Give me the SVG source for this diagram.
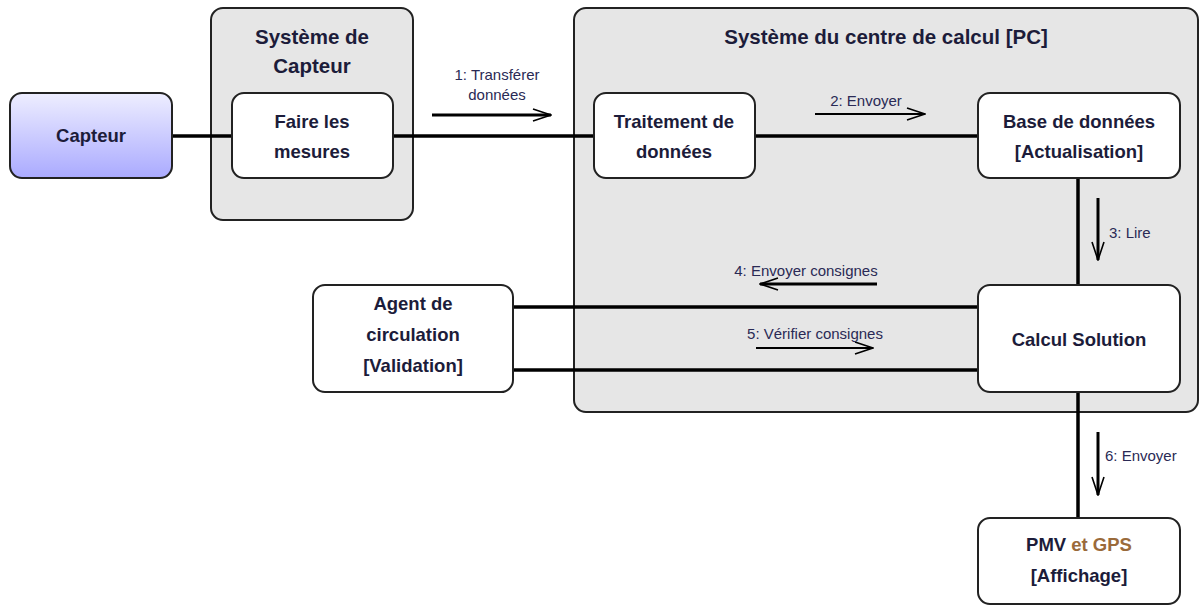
<svg xmlns="http://www.w3.org/2000/svg" width="1200" height="606" viewBox="0 0 1200 606">
<defs>
<linearGradient id="capG" x1="0" y1="0" x2="0" y2="1">
<stop offset="0" stop-color="#eeeeff"/>
<stop offset="1" stop-color="#aaaaff"/>
</linearGradient>
<marker id="openL" viewBox="0 0 20 14" refX="19" refY="7" markerWidth="20" markerHeight="14" markerUnits="userSpaceOnUse" orient="auto">
<path d="M1,1 L19,7 L1,13" fill="none" stroke="#000" stroke-width="1.6"/>
</marker>
</defs>
<style>
.cont{fill:#e6e6e6;stroke:#222;stroke-width:2}
.node{fill:#fff;stroke:#222;stroke-width:2}
.t{font-family:"Liberation Sans",Arial,sans-serif;font-weight:bold;font-size:18.5px;fill:#1c1c3a;text-anchor:middle}
.h{font-family:"Liberation Sans",Arial,sans-serif;font-weight:bold;font-size:20.5px;fill:#1c1c3a;text-anchor:middle}
.lbl{font-family:"Liberation Sans",Arial,sans-serif;font-size:15px;fill:#2a2a55;text-anchor:middle}
.lbs{font-family:"Liberation Sans",Arial,sans-serif;font-size:15px;fill:#2a2a55;text-anchor:start}
.lnk{stroke:#000;stroke-width:3.5;fill:none}
.arr{stroke:#000;fill:none}
</style>
<g id="containers">
<g id="sys-capteur">
<rect class="cont" x="211" y="8" width="202" height="212" rx="12"/>
<text class="h" x="312" y="44">Système de</text>
<text class="h" x="312" y="73">Capteur</text>
</g>
<g id="sys-pc">
<rect class="cont" x="574" y="8" width="624" height="404" rx="12"/>
<text class="h" x="886" y="44">Système du centre de calcul [PC]</text>
</g>
</g>
<g id="connectors">
<line class="lnk" x1="172" y1="136" x2="232" y2="136"/>
<line class="lnk" x1="393" y1="136" x2="594" y2="136"/>
<line class="lnk" x1="755" y1="136" x2="978" y2="136"/>
<line class="lnk" x1="1078" y1="178" x2="1078" y2="285"/>
<line class="lnk" x1="513" y1="307" x2="978" y2="307"/>
<line class="lnk" x1="513" y1="370" x2="978" y2="370"/>
<line class="lnk" x1="1078" y1="392" x2="1078" y2="518"/>
<line class="arr" x1="432" y1="115" x2="551" y2="115" stroke-width="3" marker-end="url(#openL)"/>
<line class="arr" x1="815" y1="114" x2="925" y2="114" stroke-width="1.8" marker-end="url(#openL)"/>
<line class="arr" x1="1098" y1="198" x2="1098" y2="260" stroke-width="3" marker-end="url(#openL)"/>
<line class="arr" x1="877" y1="284" x2="760" y2="284" stroke-width="3" marker-end="url(#openL)"/>
<line class="arr" x1="756" y1="348" x2="873" y2="348" stroke-width="1.8" marker-end="url(#openL)"/>
<line class="arr" x1="1098" y1="432" x2="1098" y2="495" stroke-width="3" marker-end="url(#openL)"/>
<text class="lbl" x="497" y="80">1: Transférer</text>
<text class="lbl" x="497" y="100">données</text>
<text class="lbl" x="866" y="106">2: Envoyer</text>
<text class="lbs" x="1109" y="238">3: Lire</text>
<text class="lbl" x="806" y="276">4: Envoyer consignes</text>
<text class="lbl" x="815" y="339">5: Vérifier consignes</text>
<text class="lbs" x="1105" y="461">6: Envoyer</text>
</g>
<g id="capteur">
<rect x="10" y="93" width="162" height="85" rx="12" fill="url(#capG)" stroke="#222" stroke-width="2"/>
<text class="t" x="91" y="142">Capteur</text>
</g>
<g id="faire-mesures">
<rect class="node" x="232" y="93" width="161" height="85" rx="12"/>
<text class="t" x="312" y="128">Faire les</text>
<text class="t" x="312" y="158">mesures</text>
</g>
<g id="traitement">
<rect class="node" x="594" y="93" width="161" height="85" rx="12"/>
<text class="t" x="674" y="128">Traitement de</text>
<text class="t" x="674" y="158">données</text>
</g>
<g id="base-donnees">
<rect class="node" x="978" y="93" width="202" height="85" rx="12"/>
<text class="t" x="1079" y="128">Base de données</text>
<text class="t" x="1079" y="158">[Actualisation]</text>
</g>
<g id="agent">
<rect class="node" x="313" y="285" width="200" height="107" rx="12"/>
<text class="t" x="413" y="310">Agent de</text>
<text class="t" x="413" y="341">circulation</text>
<text class="t" x="413" y="372">[Validation]</text>
</g>
<g id="calcul-solution">
<rect class="node" x="978" y="285" width="202" height="107" rx="12"/>
<text class="t" x="1079" y="346">Calcul Solution</text>
</g>
<g id="pmv-gps">
<rect class="node" x="978" y="518" width="202" height="86" rx="12"/>
<text class="t" x="1079" y="551">PMV <tspan fill="#9a6a3a">et GPS</tspan></text>
<text class="t" x="1079" y="582">[Affichage]</text>
</g>
</svg>
